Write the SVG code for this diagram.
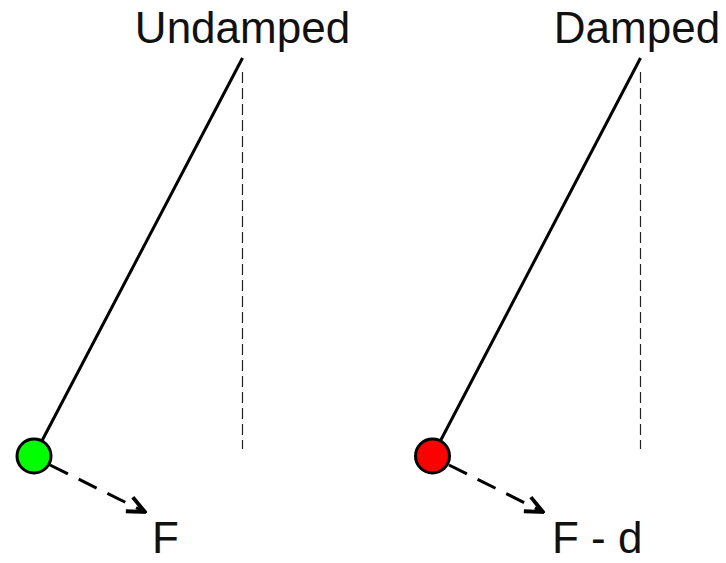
<svg xmlns="http://www.w3.org/2000/svg" width="726" height="563" viewBox="0 0 726 563">
<style>
.title{font-family:"Liberation Sans",Arial,sans-serif;font-size:44px;fill:#111}
.rod{stroke:#000;stroke-width:3;fill:none}
.plumb{stroke:#222;stroke-width:1.2;stroke-dasharray:11 5;fill:none}
.force{stroke:#000;stroke-width:3;stroke-dasharray:20 12;fill:none}
.bob{stroke:#000;stroke-width:3}
</style>
<defs>
<marker id="arr" viewBox="0 0 12 12" refX="11" refY="6" markerWidth="7" markerHeight="7" orient="auto" markerUnits="strokeWidth">
<path d="M1,1.5 L11,6 L1,10.5" fill="none" stroke="#000" stroke-width="2.2"/>
</marker>
</defs>
<rect width="726" height="563" fill="#fff"/>
<g id="connectors">
<line class="plumb" x1="242.5" y1="72" x2="242.5" y2="449"/>
<line class="plumb" x1="640.5" y1="72" x2="640.5" y2="449"/>
<line class="rod" x1="242.5" y1="58" x2="34" y2="456"/>
<line class="rod" x1="640.5" y1="58" x2="432.5" y2="456"/>
<line class="force" x1="50" y1="465" x2="145" y2="512" marker-end="url(#arr)"/>
<line class="force" x1="449" y1="465" x2="543" y2="512" marker-end="url(#arr)"/>
</g>
<g id="undamped">
<text class="title" x="242.5" y="43" text-anchor="middle">Undamped</text>
<circle class="bob" cx="34" cy="456" r="17" fill="#00ff00"/>
<text class="title" x="152" y="553">F</text>
</g>
<g id="damped">
<text class="title" x="637" y="43" text-anchor="middle">Damped</text>
<circle class="bob" cx="432.5" cy="456" r="17" fill="#ff0000"/>
<text class="title" x="552" y="553">F - d</text>
</g>
</svg>
